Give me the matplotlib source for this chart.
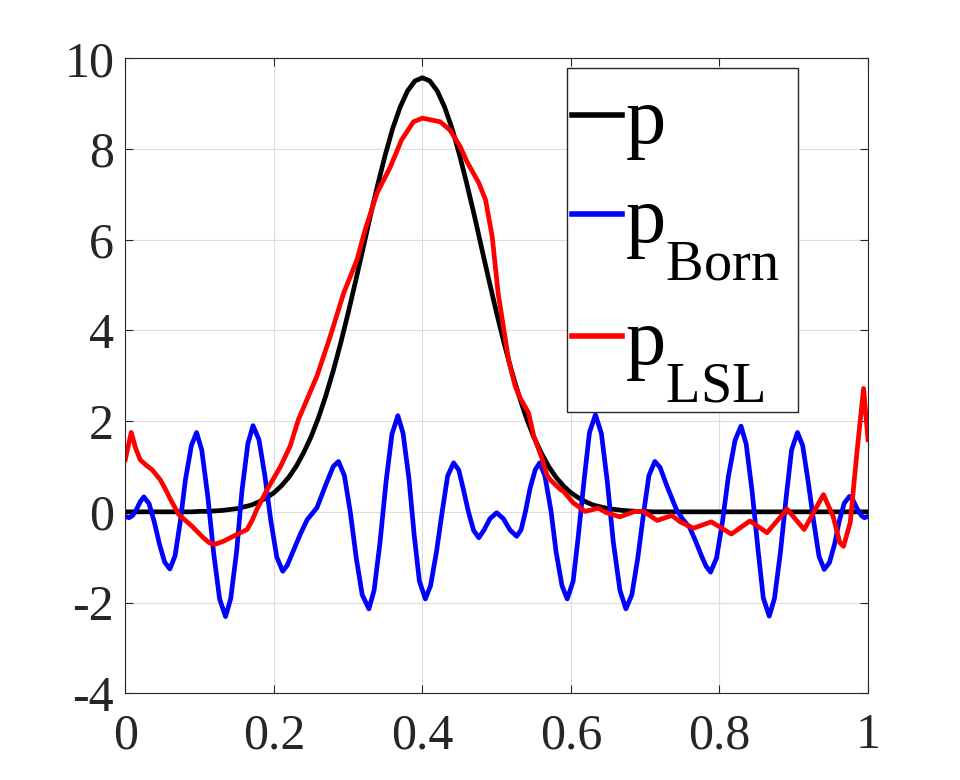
import matplotlib
matplotlib.use("Agg")
import matplotlib.pyplot as plt
from matplotlib import _mathtext
from matplotlib.patches import Rectangle
import numpy as np

# exact solution p on a 0.01 grid
x_p = np.linspace(0, 1, 101)
p_exact = [0, 0, 0, 0, 0, 0, 0, 0, 0, 0,
           0.01, 0.01, 0.02, 0.03, 0.05, 0.07, 0.11, 0.15, 0.22, 0.31,
           0.42, 0.57, 0.76, 1.00, 1.30, 1.65, 2.07, 2.56, 3.11, 3.72,
           4.38, 5.08, 5.80, 6.53, 7.22, 7.87, 8.45, 8.92, 9.28, 9.50,
           9.57,
           9.50, 9.28, 8.92, 8.45, 7.87, 7.22, 6.53, 5.80, 5.08, 4.38,
           3.72, 3.11, 2.56, 2.07, 1.65, 1.30, 1.00, 0.76, 0.57, 0.42,
           0.31, 0.22, 0.15, 0.11, 0.07, 0.05, 0.03, 0.02, 0.01, 0.01,
           0, 0, 0, 0, 0, 0, 0, 0, 0, 0,
           0, 0, 0, 0, 0, 0, 0, 0, 0, 0,
           0, 0, 0, 0, 0, 0, 0, 0, 0, 0]

# Born approximation
x_born = [0.000, 0.005, 0.010, 0.015, 0.020, 0.025, 0.032, 0.039, 0.046, 0.053,
          0.060, 0.067, 0.074, 0.081, 0.089, 0.096, 0.103, 0.111, 0.119, 0.127,
          0.135, 0.142, 0.150, 0.157, 0.165, 0.172, 0.180, 0.188, 0.196, 0.204,
          0.212, 0.218, 0.227, 0.236, 0.245, 0.258, 0.271, 0.280, 0.287, 0.295,
          0.303, 0.311, 0.319, 0.328, 0.335, 0.343, 0.351, 0.359, 0.367, 0.374,
          0.382, 0.389, 0.396, 0.404, 0.411, 0.419, 0.427, 0.434, 0.442, 0.449,
          0.455, 0.462, 0.469, 0.476, 0.483, 0.491, 0.500, 0.509, 0.518, 0.527,
          0.533, 0.539, 0.545, 0.552, 0.558, 0.565, 0.573, 0.580, 0.588, 0.595,
          0.603, 0.610, 0.618, 0.625, 0.633, 0.641, 0.649, 0.657, 0.666, 0.674,
          0.682, 0.690, 0.698, 0.705, 0.713, 0.720, 0.729, 0.742, 0.750, 0.760,
          0.768, 0.776, 0.782, 0.788, 0.796, 0.804, 0.812, 0.821, 0.829, 0.836,
          0.844, 0.852, 0.859, 0.867, 0.874, 0.882, 0.890, 0.897, 0.905, 0.912,
          0.919, 0.927, 0.934, 0.941, 0.948, 0.955, 0.961, 0.968, 0.975, 0.980,
          0.985, 0.991, 0.995, 1.000]
p_born = [-0.10, -0.13, -0.08, 0.05, 0.22, 0.33, 0.18, -0.22, -0.71, -1.11,
          -1.26, -0.97, -0.22, 0.71, 1.46, 1.75, 1.36, 0.35, -0.91, -1.92,
          -2.31, -1.91, -0.86, 0.45, 1.50, 1.90, 1.59, 0.79, -0.20, -1.00,
          -1.31, -1.18, -0.83, -0.48, -0.17, 0.09, 0.64, 1.00, 1.11, 0.80,
          -0.01, -1.02, -1.83, -2.14, -1.73, -0.67, 0.65, 1.71, 2.12, 1.73,
          0.72, -0.52, -1.53, -1.92, -1.63, -0.88, 0.04, 0.79, 1.08, 0.92,
          0.51, 0.00, -0.41, -0.57, -0.40, -0.15, -0.02, -0.15, -0.40, -0.54,
          -0.39, 0.02, 0.52, 0.93, 1.08, 0.79, 0.04, -0.88, -1.63, -1.92,
          -1.53, -0.52, 0.74, 1.75, 2.14, 1.73, 0.66, -0.66, -1.73, -2.14,
          -1.83, -1.02, -0.01, 0.80, 1.11, 0.98, 0.58, 0.05, -0.15, -0.35,
          -0.65, -0.98, -1.20, -1.33, -1.02, -0.22, 0.78, 1.58, 1.89, 1.49,
          0.44, -0.85, -1.90, -2.30, -1.91, -0.90, 0.35, 1.36, 1.75, 1.46,
          0.71, -0.23, -0.98, -1.27, -1.12, -0.71, -0.22, 0.19, 0.34, 0.25,
          0.08, -0.08, -0.13, -0.10]

# LSL reconstruction
x_lsl = [0.000, 0.008, 0.014, 0.020, 0.028, 0.036, 0.047, 0.054, 0.061, 0.072,
         0.090, 0.105, 0.113, 0.120, 0.132, 0.150, 0.164, 0.171, 0.177, 0.191,
         0.209, 0.222, 0.233, 0.258, 0.276, 0.294, 0.312, 0.323, 0.339, 0.357,
         0.372, 0.388, 0.400, 0.424, 0.437, 0.451, 0.460, 0.476, 0.485, 0.494,
         0.502, 0.509, 0.516, 0.525, 0.532, 0.543, 0.550, 0.561, 0.568, 0.572,
         0.586, 0.590, 0.603, 0.619, 0.637, 0.648, 0.666, 0.686, 0.698, 0.716,
         0.736, 0.747, 0.765, 0.789, 0.816, 0.841, 0.864, 0.891, 0.914, 0.940,
         0.953, 0.962, 0.967, 0.976, 0.985, 0.994, 1.000]
p_lsl = [1.15, 1.75, 1.40, 1.15, 1.03, 0.93, 0.71, 0.50, 0.27, -0.06,
         -0.32, -0.57, -0.68, -0.72, -0.65, -0.50, -0.39, -0.18, 0.05, 0.49,
         1.00, 1.45, 2.03, 2.99, 3.87, 4.82, 5.56, 6.22, 7.03, 7.61,
         8.20, 8.60, 8.68, 8.60, 8.42, 8.05, 7.72, 7.25, 6.88, 6.07,
         4.82, 4.09, 3.35, 2.77, 2.50, 2.18, 1.67, 1.18, 0.80, 0.71,
         0.49, 0.45, 0.20, 0.01, 0.08, -0.02, -0.11, 0.01, 0.01, -0.19,
         -0.08, -0.22, -0.36, -0.22, -0.49, -0.20, -0.46, 0.06, -0.39, 0.38,
         -0.10, -0.68, -0.76, -0.24, 1.30, 2.72, 1.59]

x_ticks = [0, 0.2, 0.4, 0.6, 0.8, 1]
x_tick_labels = ["0", "0.2", "0.4", "0.6", "0.8", "1"]
y_ticks = [-4, -2, 0, 2, 4, 6, 8, 10]
series_labels = [r"$\mathrm{p}$", r"$\mathrm{p}_{\mathrm{Born}}$", r"$\mathrm{p}_{\mathrm{LSL}}$"]

plt.rcParams["font.family"] = ["Liberation Serif", "DejaVu Serif"]
plt.rcParams["mathtext.fontset"] = "custom"
plt.rcParams["mathtext.rm"] = "Liberation Serif"
plt.rcParams["mathtext.it"] = "Liberation Serif:italic"
plt.rcParams["axes.unicode_minus"] = False
# MATLAB drops its subscripts much lower than mathtext does
_mathtext.FontConstantsBase.sub1 = 1.05

fig = plt.figure(figsize=(9.6, 7.8), dpi=100)
ax = fig.add_axes([0.1305, 0.1112, 0.7737, 0.8141])

ax.plot(x_p, p_exact, color="black", lw=3.4, label=series_labels[0])
ax.plot(x_born, p_born, color="blue", lw=3.4, label=series_labels[1])
ax.plot(x_lsl, p_lsl, color="red", lw=3.4, label=series_labels[2])

ax.set_xlim(0, 1)
ax.set_ylim(-4, 10)
ax.set_xticks(x_ticks)
ax.set_xticklabels(x_tick_labels)
ax.set_yticks(y_ticks)
ax.grid(True, color="#dcdcdc", lw=0.8)
ax.set_axisbelow(True)

ax.tick_params(direction="in", length=6, width=0.8, colors="#262626",
               labelsize=36, top=True, right=True)
ax.tick_params(axis="x", pad=14)
ax.tick_params(axis="y", pad=8)
for s in ax.spines.values():
    s.set_color("#262626")
    s.set_linewidth(0.8)

# legend without its own frame; box drawn separately like MATLAB's
leg = ax.legend(loc="upper left", bbox_to_anchor=(0.5961, 0.8889),
                bbox_transform=fig.transFigure, borderaxespad=0,
                fontsize=58, handlelength=0.62, handletextpad=0.04,
                borderpad=0, labelspacing=0.3, frameon=False)
for line in leg.get_lines():
    line.set_linewidth(4)
box = Rectangle((0.591, 0.4722), 0.2406, 0.4403, transform=fig.transFigure,
                facecolor="white", edgecolor="#262626", lw=1.0,
                zorder=4, clip_on=False)
ax.add_patch(box)
leg.set_zorder(5)

fig.savefig("out.png", dpi=100)
